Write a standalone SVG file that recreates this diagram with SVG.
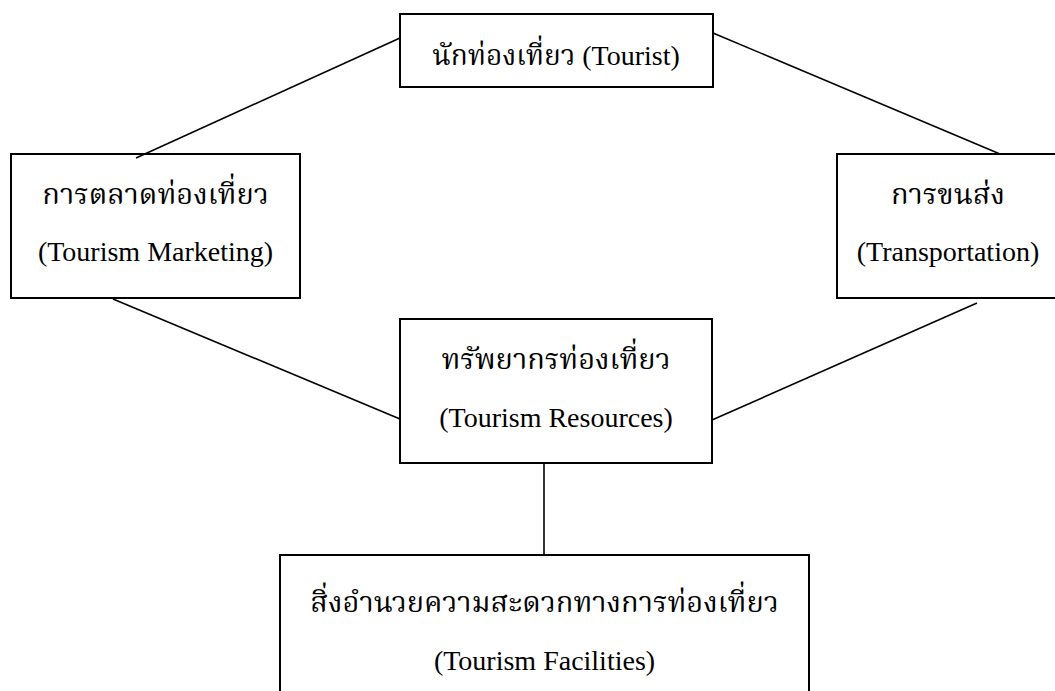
<svg xmlns="http://www.w3.org/2000/svg" width="1055" height="691" viewBox="0 0 1055 691">
<style>
.box{fill:#fff;stroke:#000;stroke-width:2}
.ln{stroke:#000;stroke-width:1.6;fill:none}
text{font-family:"Liberation Serif","Noto Serif Thai","Noto Sans Thai",serif;font-size:28px;fill:#000;text-anchor:middle}
.th{font-size:29px}
</style>
<rect width="1055" height="691" fill="#fff"/>
<g id="tourist">
<rect class="box" x="400" y="14" width="313" height="73"/>
<text x="556" y="65">นักท่องเที่ยว (Tourist)</text>
</g>
<g id="marketing">
<rect class="box" x="11" y="154" width="289" height="144"/>
<text class="th" x="155.5" y="204">การตลาดท่องเที่ยว</text>
<text x="155.5" y="261">(Tourism Marketing)</text>
</g>
<g id="transportation">
<rect class="box" x="837" y="154" width="222" height="144"/>
<text class="th" x="948" y="204">การขนส่ง</text>
<text x="948" y="261">(Transportation)</text>
</g>
<g id="resources">
<rect class="box" x="400" y="319" width="312" height="144"/>
<text class="th" x="556" y="369">ทรัพยากรท่องเที่ยว</text>
<text x="556" y="427">(Tourism Resources)</text>
</g>
<g id="facilities">
<rect class="box" x="280" y="555" width="529" height="150"/>
<text class="th" x="544.5" y="612">สิ่งอำนวยความสะดวกทางการท่องเที่ยว</text>
<text x="544.5" y="670">(Tourism Facilities)</text>
</g>
<g id="connectors">
<line class="ln" x1="136" y1="158" x2="400" y2="38"/>
<line class="ln" x1="713" y1="33" x2="1000" y2="154"/>
<line class="ln" x1="113" y1="299" x2="400" y2="419"/>
<line class="ln" x1="977" y1="303" x2="712" y2="420"/>
<line class="ln" x1="544" y1="463" x2="544" y2="555"/>
</g>
</svg>
